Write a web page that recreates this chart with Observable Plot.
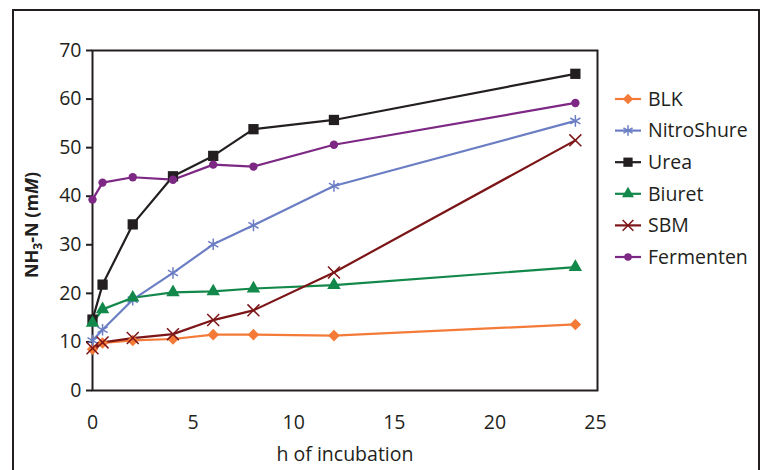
<!DOCTYPE html>
<html>
<head>
<meta charset="utf-8">
<script src="https://cdn.jsdelivr.net/npm/d3@7"></script>
<script src="https://cdn.jsdelivr.net/npm/@observablehq/plot@0.6"></script>
<style>
  html, body { margin: 0; padding: 0; background: #fff; overflow: hidden; }
  #wrap { position: relative; width: 766px; height: 470px; }
  #outer { position: absolute; left: 12px; top: 9px; width: 748px; height: 480px; border: 2px solid #231f20; box-sizing: border-box; pointer-events: none; }
  #chart { position: absolute; left: 0; top: 0; }
</style>
</head>
<body>
<div id="wrap"><div id="chart"></div><div id="outer"></div></div>
<script>
// ---- data ----
const hours = [0, 0.5, 2, 4, 6, 8, 12, 24];
const blk = [8.5, 9.8, 10.3, 10.6, 11.5, 11.5, 11.3, 13.6];
const nitroShure = [10.3, 12.5, 18.7, 24.2, 30.1, 34.0, 42.1, 55.5];
const urea = [14.6, 21.8, 34.2, 44.1, 48.3, 53.8, 55.7, 65.2];
const biuret = [13.9, 16.7, 19.1, 20.2, 20.4, 21.0, 21.7, 25.4];
const sbm = [8.7, 9.9, 10.8, 11.6, 14.5, 16.5, 24.3, 51.5];
const fermenten = [39.3, 42.8, 43.9, 43.4, 46.5, 46.1, 50.6, 59.2];
const seriesNames = ["BLK", "NitroShure", "Urea", "Biuret", "SBM", "Fermenten"];
const xTicks = [0, 5, 10, 15, 20, 25];
const yTicks = [0, 10, 20, 30, 40, 50, 60, 70];

// ---- styling ----
const colors = {BLK: "#f47a38", NitroShure: "#6b7ec4", Urea: "#231f20", Biuret: "#12884a", SBM: "#7c1517", Fermenten: "#7d2884"};
const symbols = {BLK: "diamond2", NitroShure: "asterisk", Urea: "square", Biuret: "triangle", SBM: "times", Fermenten: "circle"};
const radii = {BLK: 5.2, NitroShure: 5.5, Urea: 5.8, Biuret: 5, SBM: 5.5, Fermenten: 4.2};
const stroked = new Set(["NitroShure", "SBM"]);

const valuesByName = {BLK: blk, NitroShure: nitroShure, Urea: urea, Biuret: biuret, SBM: sbm, Fermenten: fermenten};
const rows = seriesNames.flatMap(name => hours.map((h, i) => ({name, h, v: valuesByName[name][i]})));

const font = "'Open Sans', 'Noto Sans', sans-serif";

const marks = [
  Plot.frame({stroke: "#231f20", strokeWidth: 2}),
  Plot.axisY({ticks: yTicks, tickSize: 6, tickPadding: 5, label: null, stroke: "#231f20", strokeWidth: 2, fill: "#231f20"}),
  Plot.axisX({ticks: xTicks, tickSize: 0, tickPadding: 25, label: "h of incubation", labelArrow: "none", labelAnchor: "center", labelOffset: 70, fill: "#231f20"})
];
for (const name of seriesNames) {
  const data = rows.filter(d => d.name === name);
  marks.push(Plot.line(data, {x: "h", y: "v", stroke: colors[name], strokeWidth: 2.2}));
}
for (const name of seriesNames) {
  const data = rows.filter(d => d.name === name);
  if (stroked.has(name)) {
    marks.push(Plot.dot(data, {x: "h", y: "v", symbol: symbols[name], r: radii[name], stroke: colors[name], strokeWidth: 1.5, fill: "none"}));
  } else {
    marks.push(Plot.dot(data, {x: "h", y: "v", symbol: symbols[name], r: radii[name], fill: colors[name], stroke: "none"}));
  }
}

const chart = Plot.plot({
  width: 766,
  height: 470,
  marginLeft: 92,
  marginTop: 50,
  marginRight: 169,
  marginBottom: 80,
  style: {fontFamily: font, fontSize: "19.5px", color: "#231f20", background: "transparent"},
  x: {domain: [0, 25.1]},
  y: {domain: [0, 70]},
  marks
});
document.getElementById("chart").appendChild(chart);

// ---- y-axis title with subscript and italic ----
const svg = d3.select(chart);
const yt = svg.append("text")
  .attr("transform", "translate(38,225) rotate(-90)")
  .attr("text-anchor", "middle")
  .attr("font-family", font)
  .attr("font-size", 18)
  .attr("font-weight", 700)
  .attr("fill", "#231f20");
yt.append("tspan").text("NH");
yt.append("tspan").attr("font-size", 12).attr("dy", 4).text("3");
yt.append("tspan").attr("dy", -4).text("-N (m");
yt.append("tspan").attr("font-style", "italic").text("M");
yt.append("tspan").text(")");

// ---- legend ----
const legend = svg.append("g").attr("font-family", font).attr("font-size", 19.5).attr("fill", "#231f20").attr("text-anchor", "start");
const symMap = {diamond2: d3.symbolDiamond2, asterisk: d3.symbolAsterisk, square: d3.symbolSquare, triangle: d3.symbolTriangle, times: d3.symbolTimes, circle: d3.symbolCircle};
seriesNames.forEach((name, i) => {
  const cy = 99 + i * 31.6;
  const g = legend.append("g").attr("transform", `translate(0,${cy})`);
  g.append("line").attr("x1", 615).attr("x2", 641).attr("y1", 0).attr("y2", 0)
    .attr("stroke", colors[name]).attr("stroke-width", 2.2);
  const r = radii[name] * 0.9;
  const p = g.append("path").attr("transform", "translate(628,0)")
    .attr("d", d3.symbol(symMap[symbols[name]], Math.PI * r * r)());
  if (stroked.has(name)) p.attr("fill", "none").attr("stroke", colors[name]).attr("stroke-width", 1.5);
  else p.attr("fill", colors[name]);
  g.append("text").attr("x", 648).attr("y", 0).attr("dy", "0.35em").attr("text-anchor", "start").text(name);
});
</script>
</body>
</html>
